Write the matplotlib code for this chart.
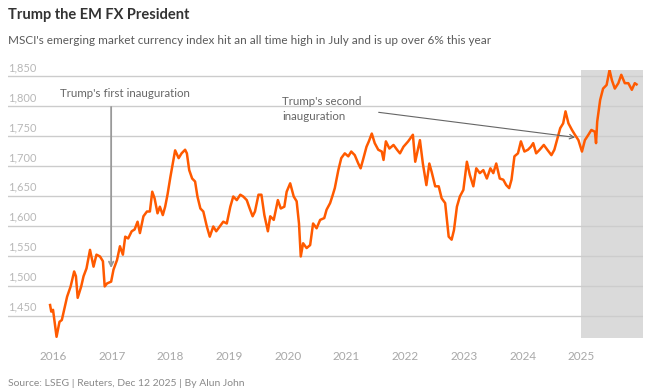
import matplotlib
matplotlib.use("Agg")
import matplotlib.pyplot as plt

# MSCI EM currency index (decimal year, index level)
years = [
    2015.95, 2015.97, 2016.00, 2016.06, 2016.11, 2016.15, 2016.24, 2016.30,
    2016.36, 2016.39, 2016.42, 2016.48, 2016.52, 2016.54, 2016.57, 2016.63,
    2016.69, 2016.74, 2016.80, 2016.85, 2016.88, 2016.92, 2016.99, 2017.03,
    2017.09, 2017.14, 2017.19, 2017.23, 2017.28, 2017.34, 2017.39, 2017.44,
    2017.48, 2017.54, 2017.60, 2017.65, 2017.69, 2017.73, 2017.78, 2017.82,
    2017.87, 2017.91, 2017.95, 2018.00, 2018.05, 2018.08, 2018.14, 2018.19,
    2018.25, 2018.28, 2018.32, 2018.37, 2018.42, 2018.46, 2018.51, 2018.56,
    2018.62, 2018.67, 2018.73, 2018.78, 2018.84, 2018.90, 2018.96, 2019.02,
    2019.07, 2019.13, 2019.19, 2019.24, 2019.30, 2019.35, 2019.40, 2019.44,
    2019.50, 2019.55, 2019.60, 2019.66, 2019.70, 2019.76, 2019.83, 2019.88,
    2019.94, 2019.98, 2020.04, 2020.10, 2020.15, 2020.19, 2020.22, 2020.26,
    2020.32, 2020.38, 2020.43, 2020.49, 2020.55, 2020.62, 2020.66, 2020.72,
    2020.76, 2020.80, 2020.86, 2020.91, 2020.97, 2021.03, 2021.08, 2021.14,
    2021.20, 2021.24, 2021.28, 2021.34, 2021.38, 2021.43, 2021.48, 2021.54,
    2021.60, 2021.63, 2021.67, 2021.73, 2021.80, 2021.86, 2021.91, 2021.97,
    2022.05, 2022.13, 2022.17, 2022.21, 2022.25, 2022.30, 2022.36, 2022.41,
    2022.45, 2022.51, 2022.57, 2022.62, 2022.68, 2022.74, 2022.79, 2022.83,
    2022.88, 2022.93, 2022.99, 2023.05, 2023.10, 2023.16, 2023.21, 2023.27,
    2023.33, 2023.39, 2023.45, 2023.50, 2023.55, 2023.61, 2023.67, 2023.72,
    2023.77, 2023.81, 2023.86, 2023.92, 2023.97, 2024.03, 2024.09, 2024.14,
    2024.18, 2024.23, 2024.29, 2024.36, 2024.42, 2024.49, 2024.54, 2024.60,
    2024.64, 2024.69, 2024.73, 2024.78, 2024.84, 2024.89, 2024.95, 2025.01,
    2025.06, 2025.12, 2025.17, 2025.23, 2025.25, 2025.27, 2025.32, 2025.37,
    2025.43, 2025.48, 2025.52, 2025.57, 2025.63, 2025.68, 2025.74, 2025.80,
    2025.86, 2025.91, 2025.94,
]
values = [
    1468, 1457, 1460, 1415, 1440, 1443, 1482, 1499,
    1524, 1516, 1480, 1499, 1516, 1521, 1529, 1560,
    1532, 1552, 1549, 1541, 1499, 1504, 1507, 1527,
    1543, 1566, 1552, 1582, 1579, 1591, 1594, 1607,
    1588, 1616, 1624, 1624, 1657, 1646, 1621, 1632,
    1618, 1632, 1652, 1682, 1710, 1726, 1713, 1721,
    1727, 1721, 1693, 1679, 1674, 1649, 1629, 1624,
    1599, 1582, 1599, 1591, 1599, 1607, 1604, 1632,
    1649, 1643, 1652, 1649, 1643, 1629, 1616, 1624,
    1652, 1652, 1618, 1591, 1616, 1610, 1643, 1629,
    1632, 1657, 1671, 1649, 1641, 1604, 1549, 1571,
    1563, 1568, 1604, 1596, 1610, 1613, 1627, 1638,
    1650, 1663, 1693, 1713, 1721, 1716, 1724, 1718,
    1704, 1696, 1710, 1732, 1741, 1754, 1738, 1727,
    1724, 1710, 1741, 1729, 1735, 1727, 1721, 1732,
    1741, 1752, 1707, 1725, 1743, 1704, 1668, 1704,
    1690, 1666, 1666, 1646, 1638, 1582, 1577, 1593,
    1632, 1649, 1660, 1707, 1685, 1666, 1696, 1688,
    1693, 1679, 1696, 1688, 1704, 1679, 1677, 1668,
    1663, 1677, 1716, 1721, 1741, 1724, 1727, 1732,
    1738, 1721, 1727, 1735, 1727, 1718, 1727, 1749,
    1763, 1771, 1791, 1771, 1760, 1752, 1743, 1724,
    1743, 1752, 1760, 1757, 1738, 1774, 1810, 1829,
    1835, 1860, 1843, 1829, 1838, 1852, 1838, 1838,
    1827, 1838, 1836,
]
year_ticks = list(range(2016, 2026))
value_ticks = [1450, 1500, 1550, 1600, 1650, 1700, 1750, 1800, 1850]

first_inauguration = (2016.99, 1525)
second_inauguration = (2024.94, 1747)

plt.rcParams["font.family"] = ["Lato", "DejaVu Sans"]

fig = plt.figure(figsize=(6.57, 3.91), dpi=100)
ax = fig.add_axes([8 / 657, 53 / 391, 635 / 657, 268 / 391])

ax.set_xlim(2015.233, 2026.05)
ax.set_ylim(1413, 1860)

# shaded 2025
ax.axvspan(2025.0, 2026.05, color="#dadada", lw=0, zorder=0)

for v in value_ticks:
    ax.axhline(v, color="#cccccc", lw=1, zorder=1)
    ax.text(0, v + 5, f"{v:,}", transform=ax.get_yaxis_transform(),
            ha="left", va="bottom", fontsize=8, color="#b8b8b8")

ax.plot(years, values, color="#ff5a00", lw=1.8, zorder=3)

# first inauguration
ax.annotate("", xy=first_inauguration, xytext=(first_inauguration[0], 1803),
            arrowprops=dict(arrowstyle="->", color="#999999", lw=1.3,
                            mutation_scale=8), zorder=2)
ax.text(2016.12, 1820, "Trump's first inauguration", fontsize=8.3,
        color="#666666", ha="left", va="center")

# second inauguration
ax.annotate("", xy=second_inauguration, xytext=(2021.50, 1790),
            arrowprops=dict(arrowstyle="->", color="#666666", lw=0.8,
                            mutation_scale=8), zorder=4)
ax.text(2019.90, 1795, "Trump's second\ninauguration", fontsize=8.3,
        color="#666666", ha="left", va="center", linespacing=1.35)

ax.set_xticks(year_ticks)
ax.set_xticklabels([str(y) for y in year_ticks])
ax.tick_params(axis="x", length=0, labelsize=8.5, labelcolor="#a8a8a8", pad=9)
ax.set_yticks([])
for s in ax.spines.values():
    s.set_visible(False)

fig.text(8 / 657, 1 - 15 / 391, "Trump the EM FX President", fontsize=10.5,
         fontweight="bold", color="#333333", ha="left", va="center")
fig.text(8 / 657, 1 - 41 / 391,
         "MSCI's emerging market currency index hit an all time high in July and is up over 6% this year",
         fontsize=8.5, color="#5a5a5a", ha="left", va="center")
fig.text(8 / 657, 1 - 383 / 391, "Source: LSEG | Reuters, Dec 12 2025 | By Alun John",
         fontsize=7.5, color="#8a8a8a", ha="left", va="center")

fig.savefig("out.png", dpi=100)
